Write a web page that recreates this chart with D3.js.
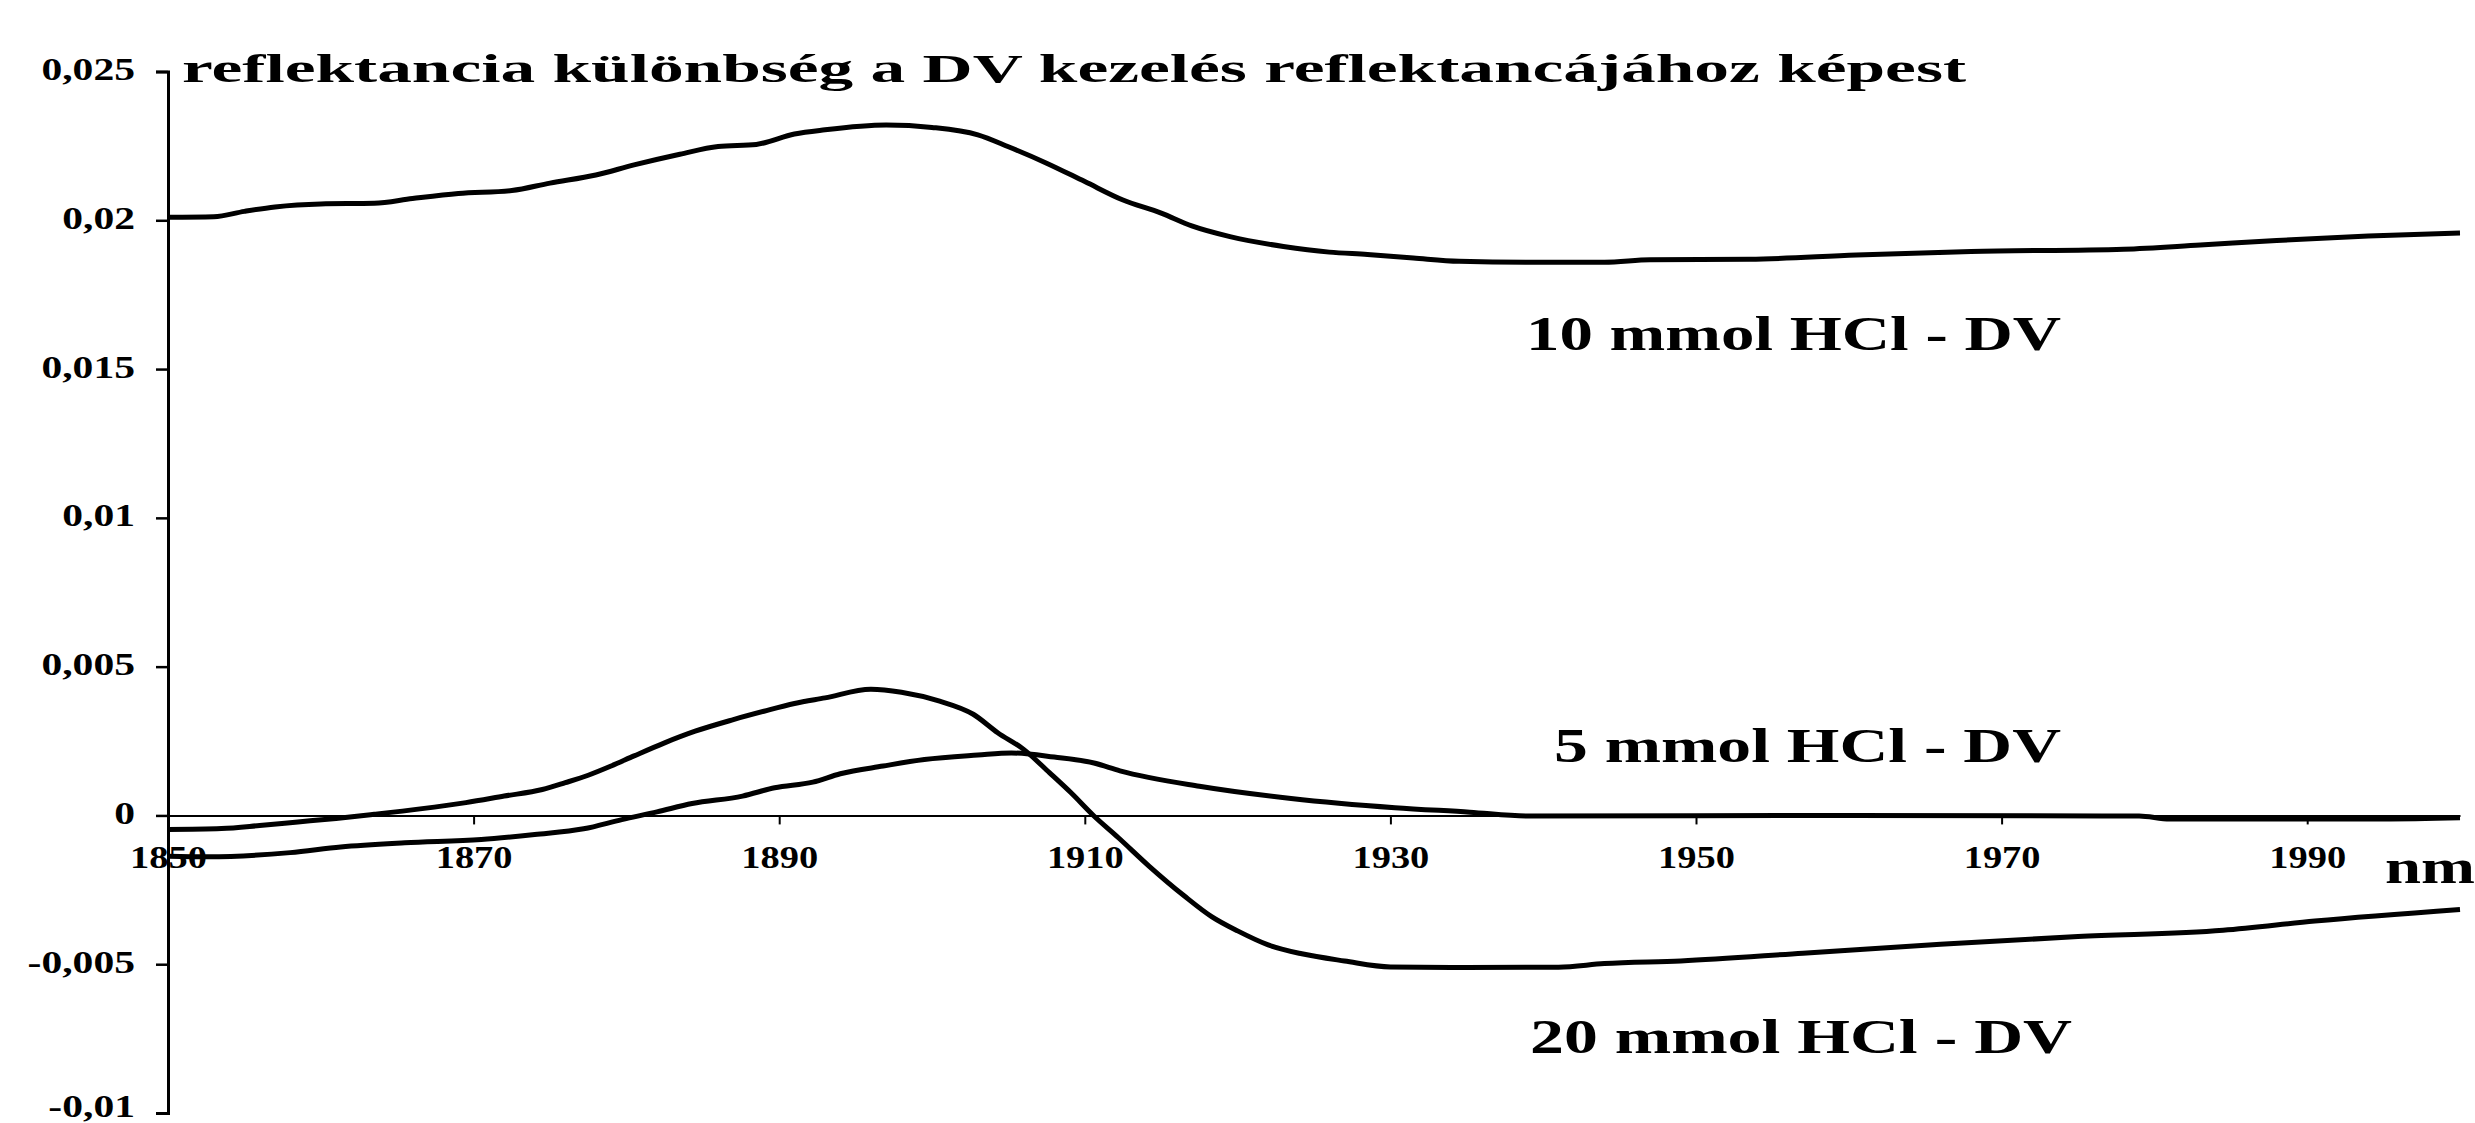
<!DOCTYPE html>
<html>
<head>
<meta charset="utf-8">
<script src="https://cdn.jsdelivr.net/npm/d3@7"></script>
<style>
  body { margin: 0; background: #fff; }
  text { font-family: "Liberation Serif", "Times New Roman", serif; font-weight: bold; fill: #000; }
</style>
</head>
<body>
<div id="chart"></div>
<script>
// Data
// =================================
var wl10 = [1850, 1853, 1855, 1857, 1860, 1863.5, 1866, 1869, 1872.5, 1875, 1878, 1880.5, 1883.5, 1886, 1888.5, 1891, 1893, 1897, 1900, 1903, 1905, 1907.5, 1910, 1912.5, 1915, 1917, 1919.5, 1923, 1926, 1928.5, 1931.5, 1934.5, 1939, 1944, 1947, 1953.5, 1960.5, 1968, 1978, 1983, 1988, 1994, 2000];
var val10 = [0.0201, 0.02012, 0.0203, 0.02045, 0.02055, 0.02057, 0.02073, 0.0209, 0.021, 0.02125, 0.02152, 0.02186, 0.02222, 0.02248, 0.02255, 0.0229, 0.02304, 0.0232, 0.02312, 0.02287, 0.02247, 0.02192, 0.0213, 0.02068, 0.02024, 0.01981, 0.01945, 0.01912, 0.01893, 0.01885, 0.01873, 0.01862, 0.01859, 0.01859, 0.01867, 0.01869, 0.01883, 0.01895, 0.01903, 0.01917, 0.01932, 0.01947, 0.01957];

var wl5 = [1850, 1852.6, 1858, 1861.3, 1865.5, 1870.5, 1874, 1877.2, 1879.7, 1882, 1884.3, 1887.6, 1889.7, 1892.2, 1894, 1896.8, 1899.5, 1903, 1905.2, 1908, 1910.6, 1912.3, 1917.5, 1923.5, 1930.3, 1935.2, 1939, 1960, 1979, 1981, 1995, 2000];
var val5 = [-0.00137, -0.00139, -0.00125, -0.00106, -0.00092, -0.00081, -0.00064, -0.00045, -0.00014, 0.00012, 0.0004, 0.00065, 0.00093, 0.00112, 0.0014, 0.00166, 0.00188, 0.00203, 0.0021, 0.00196, 0.00176, 0.0015, 0.00098, 0.00057, 0.00026, 0.00011, -0.00002, 0, -0.00002, -0.00012, -0.00012, -0.00008];

var wl20 = [1850, 1853.5, 1856, 1858.5, 1861, 1863.5, 1866.5, 1869.5, 1872, 1874.5, 1876, 1877.5, 1879, 1880.5, 1882.5, 1884.5, 1887, 1889, 1891, 1893, 1896, 1898, 1900.5, 1902.7, 1904.3, 1906, 1907.7, 1909.1, 1910.6, 1912.2, 1914.2, 1916.5, 1918.3, 1920, 1922, 1924.2, 1927, 1930, 1935, 1941, 1944, 1949, 1957, 1966, 1975, 1984.5, 1990.5, 2000];
var val20 = [-0.00047, -0.00044, -0.00034, -0.00022, -0.0001, 0.00004, 0.00022, 0.00043, 0.00065, 0.00087, 0.0011, 0.00135, 0.00166, 0.002, 0.00244, 0.00283, 0.00322, 0.0035, 0.00376, 0.00395, 0.00424, 0.00414, 0.00384, 0.0034, 0.00278, 0.00222, 0.00143, 0.00076, -0.00002, -0.00075, -0.0017, -0.0027, -0.0034, -0.00388, -0.00435, -0.00465, -0.00489, -0.00509, -0.00511, -0.0051, -0.00498, -0.00489, -0.00463, -0.00433, -0.00407, -0.00386, -0.00355, -0.00316];

var seriesNames = ["10 mmol HCl - DV", "5 mmol HCl - DV", "20 mmol HCl - DV"];
var xTicks = [1850, 1870, 1890, 1910, 1930, 1950, 1970, 1990];
var yTicks = [0.025, 0.02, 0.015, 0.01, 0.005, 0, -0.005, -0.01];
var titleText = "reflektancia különbség a DV kezelés reflektancájához képest";
var unitText = "nm";

// Set up our chart
var svgWidth = 2475;
var svgHeight = 1123;

var svg = d3.select("#chart")
    .append("svg")
    .attr("width", svgWidth)
    .attr("height", svgHeight);

svg.append("rect")
    .attr("width", svgWidth)
    .attr("height", svgHeight)
    .attr("fill", "#fff");

//Create Scale Functions
var xScale = d3.scaleLinear()
    .domain([1850, 2000])
    .range([168, 2460]);

var yScale = d3.scaleLinear()
    .domain([-0.01, 0.025])
    .range([1113, 71.5]);

var huFormat = d3.formatLocale({decimal: ",", thousands: " ", grouping: [3], currency: ["", ""], minus: "-"}).format("~g");

//Y axis
var yAxis = d3.axisLeft(yScale)
    .tickValues(yTicks)
    .tickSize(12)
    .tickFormat(huFormat);

var yG = svg.append("g")
    .attr("transform", "translate(" + xScale(1850) + ",0)")
    .call(yAxis);

yG.select(".domain").attr("stroke", "#000").attr("stroke-width", 3);
yG.selectAll(".tick line").attr("stroke", "#000").attr("stroke-width", 2.5);
// the lowest label sits a little higher so it stays inside the picture
yG.selectAll(".tick text")
    .attr("font-size", 32)
    .attr("x", null)
    .attr("dy", null)
    .attr("transform", d => "translate(-33," + (d === -0.01 ? 3 : 8) + ") scale(1.3,1)");

//X axis
var xAxis = d3.axisBottom(xScale)
    .tickValues(xTicks)
    .tickSize(9)
    .tickSizeOuter(0)
    .tickFormat(d3.format("d"));

var xG = svg.append("g")
    .attr("transform", "translate(0," + yScale(0) + ")")
    .call(xAxis);

xG.select(".domain").attr("stroke", "#000").attr("stroke-width", 2);
xG.selectAll(".tick line").attr("stroke", "#000").attr("stroke-width", 2);
xG.selectAll(".tick text")
    .attr("font-size", 32)
    .attr("y", null)
    .attr("dy", null)
    .attr("transform", "translate(0,53) scale(1.2,1)");

//Create lines
var line = d3.line()
    .x(d => xScale(d[0]))
    .y(d => yScale(d[1]))
    .curve(d3.curveMonotoneX);

var allSeries = [d3.zip(wl10, val10), d3.zip(wl5, val5), d3.zip(wl20, val20)];

svg.selectAll(".curve")
    .data(allSeries)
    .enter()
    .append("path")
    .attr("class", "curve")
    .attr("d", line)
    .attr("fill", "none")
    .attr("stroke", "#000")
    .attr("stroke-width", 5)
    .attr("stroke-linejoin", "round");

//Title and labels
svg.append("text")
    .attr("x", 182)
    .attr("y", 82)
    .attr("font-size", 40)
    .attr("textLength", 1784)
    .attr("lengthAdjust", "spacingAndGlyphs")
    .text(titleText);

var labelPos = [[1526, 350, 535], [1554, 762, 507], [1530, 1053, 542]];
svg.selectAll(".serieslabel")
    .data(seriesNames)
    .enter()
    .append("text")
    .attr("class", "serieslabel")
    .attr("x", (d, i) => labelPos[i][0])
    .attr("y", (d, i) => labelPos[i][1])
    .attr("font-size", 48)
    .attr("textLength", (d, i) => labelPos[i][2])
    .attr("lengthAdjust", "spacingAndGlyphs")
    .text(d => d);

svg.append("text")
    .attr("transform", "translate(2385,883) scale(1.35,1)")
    .attr("font-size", 48)
    .text(unitText);
</script>
</body>
</html>
